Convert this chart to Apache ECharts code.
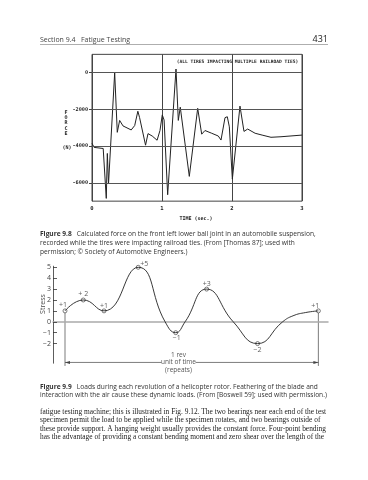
<!DOCTYPE html>
<html><head><meta charset="utf-8">
<script src="https://cdn.jsdelivr.net/npm/echarts@6/dist/echarts.min.js"></script>
<style>html,body{margin:0;padding:0;background:#fff}#c{width:368px;height:480px}</style>
</head><body><div id="c"></div>
<script>
// ---- Figure 9.8: force on ball joint vs time ----
const forceTime  = [0, 0.03, 0.16, 0.176, 0.204, 0.219, 0.236, 0.324, 0.361, 0.395, 0.443, 0.56, 0.61, 0.655, 0.68, 0.765, 0.80, 0.86, 0.93, 0.971, 1.004, 1.03, 1.081, 1.2, 1.233, 1.261, 1.39, 1.51, 1.567, 1.614, 1.71, 1.804, 1.843, 1.9, 1.933, 1.962, 2.005, 2.114, 2.171, 2.224, 2.33, 2.43, 2.557, 2.7, 3.0];
const forceValue = [-3850, -4070, -4130, -4150, -6850, -4400, -6050, 0, -3250, -2600, -2900, -3120, -2880, -2100, -2450, -3950, -3320, -3450, -3680, -3150, -2300, -2580, -6650, 200, -2600, -1880, -5650, -1940, -3350, -3150, -3300, -3450, -3670, -2450, -2400, -2950, -5800, -1820, -3200, -3070, -3300, -3400, -3520, -3490, -3400];
const forceTicks = [0, -2000, -4000, -6000];
const timeTicks  = [0, 1, 2, 3];

// ---- Figure 9.9: helicopter rotor loads over one revolution ----
const revFraction = [0, 0.072, 0.154, 0.289, 0.395, 0.437, 0.474, 0.559, 0.664, 0.76, 0.859, 0.9, 0.95, 1];
const stressCurve = [1, 2, 1, 5, 0, -1, 0, 3, 0, -2, 0, 0.55, 0.85, 1];
const peakFraction = [0, 0.072, 0.154, 0.289, 0.437, 0.559, 0.76, 1];
const peakStress   = [1, 2, 1, 5, -1, 3, -2, 1];
const peakLabels   = ['+1', '+ 2', '+1', '+5', '\u22121', '+3', '\u22122', '+1'];
const stressTicks  = [-2, -1, 0, 1, 2, 3, 4, 5];

const labelOffsets = [[-2,-6],[0,-6],[0,-5],[6,-3],[1,5],[0,-5],[0,6],[-3,-5]];

const chart = echarts.init(document.getElementById('c'), null, {renderer: 'canvas'});
const mono = 'DejaVu Sans Mono';
const sans = 'Open Sans';

const option = {
  animation: false,
  backgroundColor: '#fff',
  grid: [
    {left: 92, top: 54.35, width: 210, height: 146.8, show: true, borderColor: '#444', borderWidth: 1, backgroundColor: 'transparent'},
    {left: 53, top: 266.2, width: 275, height: 97}
  ],
  xAxis: [
    {gridIndex: 0, type: 'value', min: 0, max: 3, interval: 1,
     axisLine: {show: false},
     axisTick: {show: true, length: 3, lineStyle: {color: '#444'}, customValues: timeTicks},
     axisLabel: {margin: 4, fontFamily: mono, fontWeight: 'bold', fontSize: 5.5, color: '#222', customValues: timeTicks,
                 formatter: v => String(v)},
     splitLine: {show: true, lineStyle: {color: '#444', width: 1}}},
    {gridIndex: 1, type: 'value', min: -0.0474, max: 1.038,
     axisLine: {show: true, onZero: true, lineStyle: {color: '#aaa', width: 1.5}},
     axisTick: {show: false}, axisLabel: {show: false}, splitLine: {show: false}}
  ],
  yAxis: [
    {gridIndex: 0, type: 'value', min: -7000, max: 1000,
     axisLine: {show: false},
     axisTick: {show: true, length: 3, lineStyle: {color: '#444'}, customValues: forceTicks},
     axisLabel: {margin: 4, fontFamily: mono, fontWeight: 'bold', fontSize: 5.2, color: '#222', customValues: forceTicks,
                 formatter: v => String(v)},
     splitLine: {show: false}},
    {gridIndex: 1, type: 'value', min: -3.8, max: 5.1,
     axisLine: {show: true, onZero: false, lineStyle: {color: '#333', width: 0.8}},
     axisTick: {show: true, inside: true, length: 4, lineStyle: {color: '#333', width: 0.8}, customValues: stressTicks},
     axisLabel: {margin: 2, fontFamily: sans, fontSize: 7, color: '#444', customValues: stressTicks,
                 formatter: v => v < 0 ? '\u2212' + (-v) : String(v)},
     splitLine: {show: false}}
  ],
  series: [
    {type: 'line', xAxisIndex: 0, yAxisIndex: 0, symbol: 'none', silent: true,
     data: forceTime.map((t, i) => [t, forceValue[i]]),
     lineStyle: {color: '#222', width: 1},
     markLine: {silent: true, symbol: 'none', label: {show: false},
                lineStyle: {color: '#555', type: 'solid', width: 1},
                data: forceTicks.map(v => ({yAxis: v}))}},
    {type: 'line', xAxisIndex: 1, yAxisIndex: 1, symbol: 'none', silent: true,
     smooth: 0.5,
     data: revFraction.map((t, i) => [t, stressCurve[i]]),
     lineStyle: {color: '#222', width: 0.9}},
    {type: 'scatter', xAxisIndex: 1, yAxisIndex: 1, silent: true,
     symbol: 'circle', symbolSize: 4,
     itemStyle: {color: '#fff', borderColor: '#333', borderWidth: 0.8},
     data: peakFraction.map((t, i) => ({
       value: [t, peakStress[i]],
       label: {show: true, position: 'inside', offset: labelOffsets[i], formatter: peakLabels[i],
               fontFamily: sans, fontSize: 7, color: '#333'}
     }))}
  ]
};
chart.setOption(option);

// annotations placed through the chart's own scales
const P = (x, y) => chart.convertToPixel({gridIndex: 1}, [x, y]);
const a0 = P(0, -3.73), a1 = P(1, -3.73);
const v0t = P(0, 1), v0b = P(0, -4.05), v1t = P(1, 1), v1b = P(1, -4.05);
const mid = P(0.44, -3.73);
const ay = a0[1];
const gtext = (x, y, text, style) => ({type: 'text', x: x, y: y, silent: true,
  style: Object.assign({text: text, fill: '#333', align: 'left', verticalAlign: 'middle', fontFamily: sans, fontSize: 7}, style || {})});

const graphics = [
  // page header
  gtext(40, 40.3, 'Section 9.4   Fatigue Testing', {fontSize: 7, fill: '#444'}),
  gtext(328, 39.7, '431', {align: 'right', fontSize: 9, fill: '#222'}),
  {type: 'line', silent: true, shape: {x1: 40, y1: 44.5, x2: 328, y2: 44.5}, style: {stroke: '#777', lineWidth: 0.6}},
  // figure 9.8 annotations
  gtext(237.5, 61.7, '(ALL TIRES IMPACTING MULTIPLE RAILROAD TIES)', {align: 'center', fontFamily: mono, fontWeight: 'bold', fontSize: 4.6, fill: '#222'}),
  gtext(66, 112.5, 'F', {align: 'center', fontFamily: mono, fontWeight: 'bold', fontSize: 5, fill: '#222'}),
  gtext(66, 117.8, 'O', {align: 'center', fontFamily: mono, fontWeight: 'bold', fontSize: 5, fill: '#222'}),
  gtext(66, 123.1, 'R', {align: 'center', fontFamily: mono, fontWeight: 'bold', fontSize: 5, fill: '#222'}),
  gtext(66, 128.4, 'C', {align: 'center', fontFamily: mono, fontWeight: 'bold', fontSize: 5, fill: '#222'}),
  gtext(66, 133.7, 'E', {align: 'center', fontFamily: mono, fontWeight: 'bold', fontSize: 5, fill: '#222'}),
  gtext(67, 147.5, '(N)', {align: 'center', fontFamily: mono, fontWeight: 'bold', fontSize: 5, fill: '#222'}),
  gtext(196, 218.7, 'TIME (sec.)', {align: 'center', fontFamily: mono, fontWeight: 'bold', fontSize: 5, fill: '#222'}),
  // caption 9.8
  {type: 'text', x: 40, y: 234.3, silent: true, style: {
    text: '{b|Figure 9.8}   Calculated force on the front left lower ball joint in an automobile suspension,',
    fill: '#333', fontFamily: sans, fontSize: 6.6, verticalAlign: 'middle',
    rich: {b: {fontWeight: 'bold', fontFamily: sans, fontSize: 6.6, fill: '#333'}}}},
  gtext(40, 243.3, 'recorded while the tires were impacting railroad ties. (From [Thomas 87]; used with', {fontSize: 6.6}),
  gtext(40, 252, 'permission; \u00a9 Society of Automotive Engineers.)', {fontSize: 6.6}),
  // figure 9.9 annotations
  {type: 'text', x: 42.7, y: 304, rotation: Math.PI / 2, silent: true,
   style: {text: 'Stress', fill: '#444', align: 'center', verticalAlign: 'middle', fontFamily: sans, fontSize: 7}},
  {type: 'line', silent: true, shape: {x1: v0t[0], y1: v0t[1] + 2, x2: v0b[0], y2: v0b[1]}, style: {stroke: '#444', lineWidth: 0.7}},
  {type: 'line', silent: true, shape: {x1: v1t[0], y1: v1t[1] + 2, x2: v1b[0], y2: v1b[1]}, style: {stroke: '#444', lineWidth: 0.7}},
  {type: 'line', silent: true, shape: {x1: a0[0], y1: ay, x2: mid[0] - 15, y2: ay}, style: {stroke: '#444', lineWidth: 0.7}},
  {type: 'line', silent: true, shape: {x1: mid[0] + 19, y1: ay, x2: a1[0], y2: ay}, style: {stroke: '#444', lineWidth: 0.7}},
  {type: 'polygon', silent: true, shape: {points: [[a0[0], ay], [a0[0] + 5, ay - 1.5], [a0[0] + 5, ay + 1.5]]}, style: {fill: '#444'}},
  {type: 'polygon', silent: true, shape: {points: [[a1[0], ay], [a1[0] - 5, ay - 1.5], [a1[0] - 5, ay + 1.5]]}, style: {fill: '#444'}},
  gtext(mid[0] + 2, ay - 7, '1 rev', {align: 'center', fontSize: 6.5, fill: '#555'}),
  gtext(mid[0] + 2, ay, 'unit of time', {align: 'center', fontSize: 6.5, fill: '#555'}),
  gtext(mid[0] + 2, ay + 8, '(repeats)', {align: 'center', fontSize: 6.5, fill: '#555'}),
  // caption 9.9
  {type: 'text', x: 40, y: 386.7, silent: true, style: {
    text: '{b|Figure 9.9}   Loads during each revolution of a helicopter rotor. Feathering of the blade and',
    fill: '#333', fontFamily: sans, fontSize: 6.6, verticalAlign: 'middle',
    rich: {b: {fontWeight: 'bold', fontFamily: sans, fontSize: 6.6, fill: '#333'}}}},
  gtext(40, 395.3, 'interaction with the air cause these dynamic loads. (From [Boswell 59]; used with permission.)', {fontSize: 6.6}),
  // body text
  gtext(40, 411.7, 'fatigue testing machine; this is illustrated in Fig. 9.12. The two bearings near each end of the test', {fontFamily: 'Liberation Serif', fontSize: 7.4, fill: '#222'}),
  gtext(40, 420.3, 'specimen permit the load to be applied while the specimen rotates, and two bearings outside of', {fontFamily: 'Liberation Serif', fontSize: 7.4, fill: '#222'}),
  gtext(40, 428.7, 'these provide support. A hanging weight usually provides the constant force. Four-point bending', {fontFamily: 'Liberation Serif', fontSize: 7.4, fill: '#222'}),
  gtext(40, 437, 'has the advantage of providing a constant bending moment and zero shear over the length of the', {fontFamily: 'Liberation Serif', fontSize: 7.4, fill: '#222'})
];
chart.setOption({graphic: graphics});
</script>
</body></html>
